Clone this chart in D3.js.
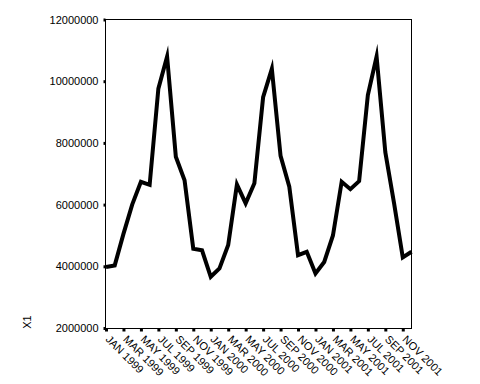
<!DOCTYPE html>
<html>
<head>
<meta charset="utf-8">
<script src="https://cdn.jsdelivr.net/npm/d3@7"></script>
<style>
  body { margin: 0; background: #fff; }
  svg { display: block; font-family: Arial, "Liberation Sans", sans-serif; }
</style>
</head>
<body>
<script>
(function () {
  var months, years, categories, values, yTicks, svg, x, y, line,
    width, height, left, right, top, bottom;

  months = ['JAN', 'FEB', 'MAR', 'APR', 'MAY', 'JUN', 'JUL', 'AUG', 'SEP', 'OCT', 'NOV', 'DEC'];
  years = [1999, 2000, 2001];

  categories = [];
  years.forEach(function (yr) {
    months.forEach(function (m) {
      categories.push(m + ' ' + yr);
    });
  });

  values = [
    3980000, 4030000, 5050000, 6000000, 6740000, 6640000, 9760000, 10800000, 7550000, 6790000, 4570000, 4520000,
    3660000, 3930000, 4690000, 6650000, 6040000, 6690000, 9480000, 10400000, 7580000, 6580000, 4360000, 4470000,
    3770000, 4140000, 5000000, 6740000, 6500000, 6760000, 9550000, 10800000, 7700000, 6050000, 4290000, 4470000
  ];

  yTicks = [2000000, 4000000, 6000000, 8000000, 10000000, 12000000];

  width = 480;
  height = 384;
  left = 105.5;
  right = 411.5;
  top = 19.5;
  bottom = 328.5;

  svg = d3.select('body')
    .append('svg')
    .attr('width', width)
    .attr('height', height);

  x = d3.scalePoint()
    .domain(categories)
    .range([left + 0.5, right]);

  y = d3.scaleLinear()
    .domain([2000000, 12000000])
    .range([bottom - 0.5, top]);

  // frame
  svg.append('rect')
    .attr('x', left)
    .attr('y', top)
    .attr('width', right - left)
    .attr('height', bottom - top)
    .attr('fill', 'none')
    .attr('stroke', '#000')
    .attr('stroke-width', 1);

  // y axis
  var yAxis = svg.append('g')
    .attr('transform', 'translate(' + left + ',0)')
    .call(d3.axisLeft(y).tickValues(yTicks).tickSize(2).tickPadding(5).tickFormat(d3.format('d')));
  yAxis.select('.domain').remove();
  yAxis.selectAll('.tick line').attr('stroke-width', 3);
  yAxis.selectAll('.tick text')
    .attr('font-size', 11)
    .attr('font-family', 'Arial, "Liberation Sans", sans-serif')
    .attr('fill', '#000');

  // x axis
  var xAxis = svg.append('g')
    .attr('transform', 'translate(0,' + bottom + ')')
    .call(d3.axisBottom(x)
      .tickValues(categories.filter(function (d, i) { return i % 2 === 0; }))
      .tickSize(3));
  xAxis.select('.domain').remove();
  xAxis.selectAll('.tick line').attr('stroke-width', 3).attr('y1', 0.5);
  xAxis.selectAll('.tick text')
    .attr('font-size', 11)
    .attr('font-family', 'Arial, "Liberation Sans", sans-serif')
    .attr('fill', '#000')
    .attr('text-anchor', 'start')
    .attr('y', 0)
    .attr('dy', '0.71em')
    .attr('transform', 'translate(4,6) rotate(45)');

  // y axis title
  svg.append('text')
    .attr('transform', 'translate(31,322) rotate(-90)')
    .attr('text-anchor', 'middle')
    .attr('font-size', 11)
    .text('X1');

  line = d3.line()
    .x(function (d, i) { return x(categories[i]); })
    .y(function (d) { return y(d); });

  svg.append('path')
    .datum(values)
    .attr('d', line)
    .attr('fill', 'none')
    .attr('stroke', '#000')
    .attr('stroke-width', 4)
    .attr('stroke-linejoin', 'miter')
    .attr('stroke-miterlimit', 10);
}());
</script>
</body>
</html>
